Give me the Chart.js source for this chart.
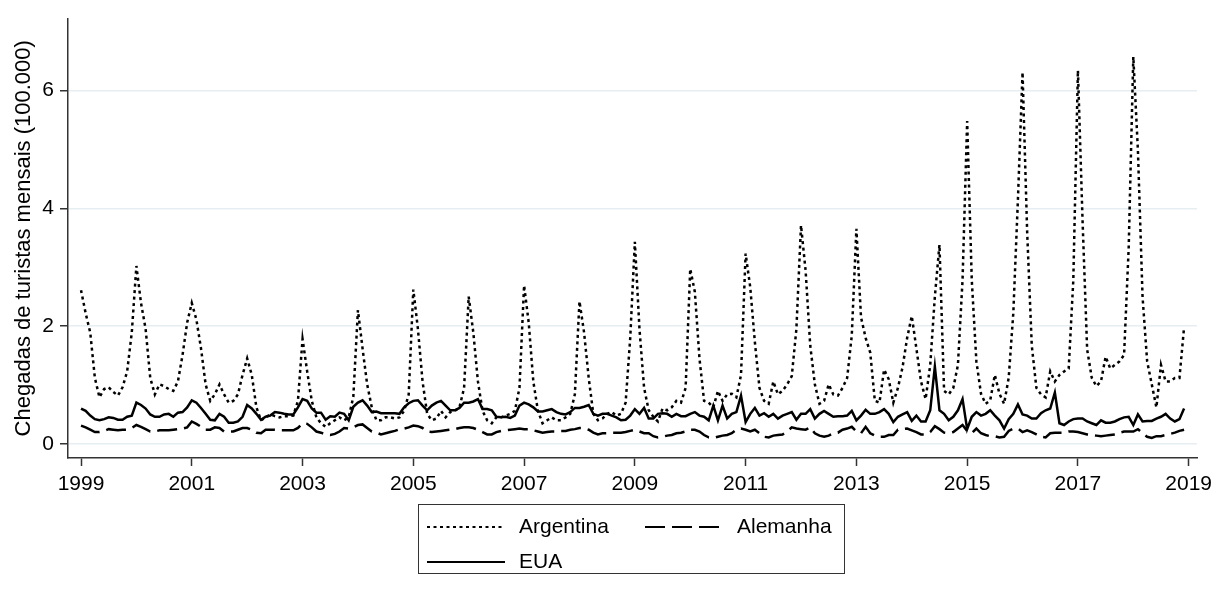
<!DOCTYPE html>
<html>
<head>
<meta charset="utf-8">
<script src="https://cdn.jsdelivr.net/npm/chart.js@4.4.0/dist/chart.umd.min.js"></script>
<style>
  html, body { margin: 0; padding: 0; background: #fff; }
  #grafico { display: block; }
</style>
</head>
<body>
<canvas id="grafico" width="1226" height="597"></canvas>
<script>
// dados mensais, jan/1999 a dez/2018 (chegadas em 100.000)
var anoInicial = 1999;
var rotulosAnos = [1999, 2001, 2003, 2005, 2007, 2009, 2011, 2013, 2015, 2017, 2019];
var rotulosY = [0, 2, 4, 6];
var nomesSeries = ['Argentina', 'Alemanha', 'EUA'];

var argentina = [
  2.61, 2.22, 1.89, 1.12, 0.79, 0.93, 0.96, 0.88, 0.82, 0.96, 1.23, 1.89,
  3.02, 2.39, 1.95, 1.12, 0.84, 1.01, 0.98, 0.93, 0.90, 1.06, 1.51, 2.06,
  2.39, 2.11, 1.62, 1.01, 0.73, 0.84, 1.01, 0.84, 0.70, 0.73, 0.84, 1.17,
  1.45, 1.17, 0.62, 0.40, 0.45, 0.50, 0.47, 0.45, 0.47, 0.47, 0.48, 0.73,
  1.78, 1.23, 0.73, 0.45, 0.35, 0.29, 0.35, 0.40, 0.45, 0.40, 0.45, 0.80,
  2.27, 1.62, 1.01, 0.62, 0.40, 0.40, 0.45, 0.45, 0.43, 0.45, 0.56, 0.84,
  2.62, 1.95, 1.06, 0.51, 0.40, 0.43, 0.56, 0.45, 0.54, 0.56, 0.62, 0.95,
  2.50, 1.89, 1.06, 0.56, 0.40, 0.35, 0.45, 0.45, 0.48, 0.51, 0.56, 0.95,
  2.69, 2.06, 1.06, 0.56, 0.35, 0.40, 0.45, 0.40, 0.40, 0.45, 0.51, 0.84,
  2.42, 1.89, 1.12, 0.51, 0.40, 0.43, 0.51, 0.54, 0.48, 0.51, 0.70, 1.80,
  3.43, 1.95, 0.95, 0.57, 0.46, 0.38, 0.60, 0.57, 0.62, 0.73, 0.70, 0.95,
  2.97, 2.58, 1.45, 0.73, 0.70, 0.62, 0.90, 0.73, 0.84, 0.85, 0.79, 1.17,
  3.23, 2.66, 1.73, 0.95, 0.73, 0.68, 1.06, 0.84, 0.90, 1.01, 1.15, 1.95,
  3.71, 2.94, 1.67, 1.01, 0.68, 0.73, 1.01, 0.84, 0.82, 0.95, 1.12, 1.84,
  3.65, 2.15, 1.80, 1.55, 0.73, 0.70, 1.26, 1.10, 0.70, 0.95, 1.30, 1.80,
  2.17, 1.62, 1.06, 0.76, 1.34, 2.50, 3.38, 0.90, 0.84, 0.95, 1.34, 2.78,
  5.48, 2.78, 1.40, 0.85, 0.68, 0.74, 1.17, 0.85, 0.68, 1.12, 2.22, 4.15,
  6.31, 3.60, 1.67, 0.95, 0.84, 0.79, 1.23, 1.06, 1.17, 1.23, 1.28, 2.78,
  6.34, 3.80, 1.60, 1.12, 0.98, 1.06, 1.48, 1.28, 1.34, 1.40, 1.51, 3.33,
  6.57, 4.98, 2.50, 1.40, 1.01, 0.62, 1.34, 1.06, 1.06, 1.12, 1.12, 1.98
];

var alemanha = [
  0.31, 0.28, 0.24, 0.20, 0.20, 0.22, 0.25, 0.24, 0.23, 0.24, 0.24, 0.27,
  0.32, 0.29, 0.25, 0.21, 0.21, 0.23, 0.23, 0.23, 0.24, 0.25, 0.26, 0.28,
  0.38, 0.34, 0.29, 0.24, 0.24, 0.28, 0.27, 0.21, 0.21, 0.21, 0.24, 0.27,
  0.27, 0.24, 0.19, 0.18, 0.24, 0.24, 0.24, 0.23, 0.23, 0.23, 0.23, 0.27,
  0.35, 0.34, 0.28, 0.21, 0.19, 0.16, 0.15, 0.17, 0.21, 0.27, 0.26, 0.28,
  0.32, 0.33, 0.27, 0.21, 0.19, 0.16, 0.18, 0.20, 0.22, 0.25, 0.26, 0.28,
  0.31, 0.30, 0.27, 0.21, 0.20, 0.21, 0.22, 0.23, 0.24, 0.25, 0.27, 0.28,
  0.28, 0.27, 0.24, 0.20, 0.16, 0.16, 0.20, 0.22, 0.23, 0.24, 0.25, 0.26,
  0.25, 0.25, 0.23, 0.21, 0.19, 0.20, 0.21, 0.21, 0.22, 0.22, 0.24, 0.25,
  0.27, 0.27, 0.24, 0.19, 0.16, 0.18, 0.18, 0.19, 0.19, 0.19, 0.20, 0.22,
  0.24, 0.21, 0.18, 0.18, 0.13, 0.11, 0.12, 0.14, 0.15, 0.18, 0.19, 0.21,
  0.24, 0.24, 0.21, 0.15, 0.11, 0.10, 0.12, 0.14, 0.15, 0.18, 0.24, 0.26,
  0.24, 0.21, 0.24, 0.18, 0.12, 0.11, 0.14, 0.15, 0.16, 0.21, 0.28, 0.26,
  0.25, 0.24, 0.28, 0.18, 0.14, 0.12, 0.14, 0.18, 0.19, 0.24, 0.26, 0.29,
  0.21, 0.18, 0.29, 0.18, 0.14, 0.12, 0.12, 0.15, 0.15, 0.24, 0.25, 0.26,
  0.23, 0.20, 0.16, 0.16, 0.20, 0.30, 0.25, 0.19, 0.18, 0.20, 0.26, 0.32,
  0.22, 0.18, 0.26, 0.18, 0.15, 0.13, 0.13, 0.11, 0.12, 0.22, 0.26, 0.26,
  0.20, 0.23, 0.20, 0.16, 0.12, 0.11, 0.18, 0.19, 0.19, 0.19, 0.21, 0.21,
  0.20, 0.18, 0.16, 0.15, 0.14, 0.13, 0.14, 0.15, 0.16, 0.19, 0.21, 0.21,
  0.21, 0.25, 0.18, 0.12, 0.10, 0.13, 0.13, 0.15, 0.17, 0.19, 0.22, 0.24
];

var eua = [
  0.60, 0.56, 0.48, 0.42, 0.40, 0.42, 0.45, 0.44, 0.41, 0.41, 0.46, 0.48,
  0.70, 0.66, 0.60, 0.50, 0.46, 0.46, 0.50, 0.51, 0.46, 0.53, 0.54, 0.62,
  0.74, 0.70, 0.61, 0.51, 0.41, 0.40, 0.51, 0.46, 0.36, 0.36, 0.38, 0.46,
  0.66, 0.60, 0.51, 0.41, 0.46, 0.48, 0.54, 0.53, 0.51, 0.50, 0.50, 0.62,
  0.76, 0.73, 0.60, 0.53, 0.53, 0.41, 0.47, 0.46, 0.53, 0.51, 0.40, 0.63,
  0.70, 0.74, 0.65, 0.54, 0.55, 0.52, 0.52, 0.52, 0.52, 0.51, 0.62, 0.69,
  0.73, 0.74, 0.65, 0.57, 0.65, 0.70, 0.73, 0.65, 0.57, 0.57, 0.61, 0.70,
  0.70, 0.72, 0.76, 0.59, 0.59, 0.57, 0.46, 0.45, 0.46, 0.44, 0.48, 0.65,
  0.70, 0.67, 0.62, 0.55, 0.55, 0.57, 0.59, 0.54, 0.51, 0.50, 0.54, 0.61,
  0.61, 0.63, 0.66, 0.51, 0.48, 0.51, 0.51, 0.48, 0.45, 0.40, 0.41, 0.48,
  0.59, 0.51, 0.61, 0.43, 0.43, 0.51, 0.52, 0.51, 0.46, 0.51, 0.47, 0.47,
  0.51, 0.54, 0.48, 0.46, 0.40, 0.65, 0.40, 0.65, 0.43, 0.51, 0.54, 0.82,
  0.37, 0.51, 0.61, 0.48, 0.52, 0.46, 0.51, 0.43, 0.48, 0.51, 0.54, 0.41,
  0.51, 0.51, 0.59, 0.43, 0.51, 0.56, 0.51, 0.46, 0.47, 0.47, 0.48, 0.56,
  0.40, 0.48, 0.58, 0.51, 0.51, 0.54, 0.59, 0.51, 0.37, 0.46, 0.50, 0.54,
  0.39, 0.48, 0.38, 0.38, 0.57, 1.31, 0.57, 0.51, 0.40, 0.46, 0.57, 0.76,
  0.25, 0.46, 0.54, 0.48, 0.51, 0.57, 0.48, 0.40, 0.26, 0.42, 0.51, 0.67,
  0.50, 0.48, 0.43, 0.43, 0.52, 0.57, 0.60, 0.87, 0.35, 0.32, 0.38, 0.42,
  0.43, 0.43, 0.38, 0.35, 0.32, 0.40, 0.36, 0.36, 0.38, 0.42, 0.45, 0.46,
  0.32, 0.50, 0.38, 0.39, 0.39, 0.43, 0.46, 0.51, 0.43, 0.38, 0.42, 0.60
];

var fonte = 'Liberation Sans, Arial, sans-serif';
var corEixo = '#333333';

var pontos = function (valores) {
    return valores.map(function (v, i) {
        return { x: anoInicial + i / 12, y: v };
    });
};

// legenda com caixa, como no original
var legendaCaixa = {
    id: 'legendaCaixa',
    afterDraw: function (chart) {
        var ctx = chart.ctx;
        var itens = [
            { ds: 0, x: 427, y: 527 },
            { ds: 1, x: 645, y: 527 },
            { ds: 2, x: 427, y: 562 }
        ];
        ctx.save();
        ctx.strokeStyle = corEixo;
        ctx.lineWidth = 1;
        ctx.strokeRect(418.5, 504.5, 426, 69);
        ctx.font = '21px ' + fonte;
        ctx.fillStyle = '#000';
        ctx.textBaseline = 'middle';
        itens.forEach(function (it) {
            var ds = chart.data.datasets[it.ds];
            ctx.beginPath();
            ctx.setLineDash(ds.borderDash || []);
            ctx.lineWidth = 2;
            ctx.strokeStyle = ds.borderColor;
            ctx.moveTo(it.x, it.y);
            ctx.lineTo(it.x + 78, it.y);
            ctx.stroke();
            ctx.setLineDash([]);
            ctx.fillText(ds.label, it.x + 92, it.y);
        });
        ctx.restore();
    }
};

var ctx = document.getElementById('grafico').getContext('2d');
var grafico = new Chart(ctx, {
    type: 'line',
    data: {
        datasets: [
            { label: nomesSeries[0], data: pontos(argentina), borderColor: '#000', borderWidth: 2.5, borderDash: [3, 3.5] },
            { label: nomesSeries[1], data: pontos(alemanha), borderColor: '#000', borderWidth: 2.5, borderDash: [20, 7] },
            { label: nomesSeries[2], data: pontos(eua), borderColor: '#000', borderWidth: 2.5 }
        ]
    },
    options: {
        responsive: false,
        animation: false,
        parsing: false,
        elements: { point: { radius: 0 }, line: { tension: 0 } },
        layout: { padding: { left: 0, top: 8, right: 29, bottom: 99 } },
        plugins: { legend: { display: false }, tooltip: { enabled: false } },
        scales: {
            x: {
                type: 'linear',
                min: 1998.765,
                max: 2019.15,
                afterBuildTicks: function (s) {
                    s.ticks = rotulosAnos.map(function (v) { return { value: v }; });
                },
                afterFit: function (s) { s.height = 40; },
                ticks: {
                    autoSkip: false, maxRotation: 0, padding: 6,
                    color: '#000', font: { family: fonte, size: 21 },
                    callback: function (v) { return String(v); }
                },
                grid: { drawOnChartArea: false, drawTicks: true, tickLength: 8, tickColor: corEixo, tickWidth: 1.5 },
                border: { display: true, color: corEixo, width: 1.5 }
            },
            y: {
                min: -0.24,
                max: 7.22,
                afterBuildTicks: function (s) {
                    s.ticks = rotulosY.map(function (v) { return { value: v }; });
                },
                afterFit: function (s) { s.width = 68; },
                ticks: {
                    padding: 6, color: '#000', font: { family: fonte, size: 21 },
                    callback: function (v) { return String(v); }
                },
                grid: { color: '#e6eef2', lineWidth: 1.5, drawTicks: true, tickLength: 8, tickColor: corEixo, tickWidth: 1.5 },
                border: { display: true, color: corEixo, width: 1.5 },
                title: {
                    display: true,
                    text: 'Chegadas de turistas mensais (100.000)',
                    color: '#000',
                    font: { family: fonte, size: 22 },
                    padding: { top: 11, bottom: 0 }
                }
            }
        }
    },
    plugins: [legendaCaixa]
});
</script>
</body>
</html>
